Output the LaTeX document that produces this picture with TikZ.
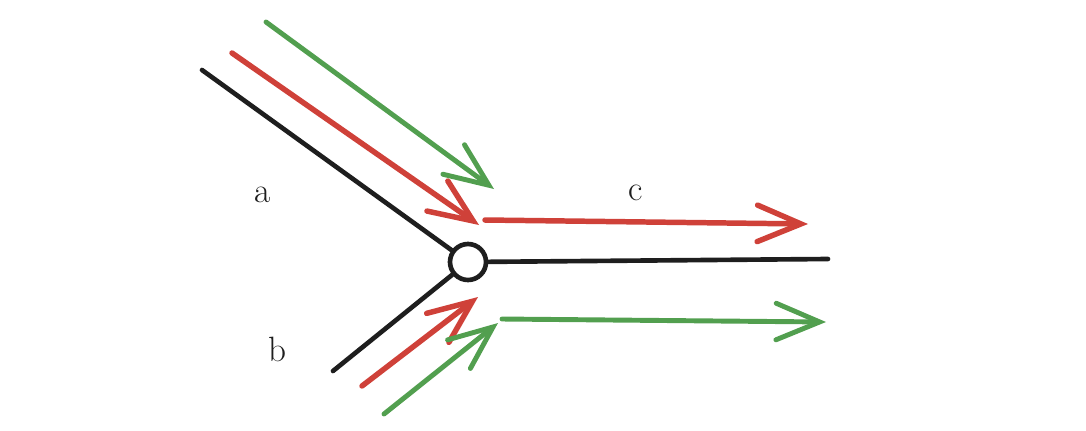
\documentclass[tikz,border=0pt]{standalone}
\usepackage{tikz}
\usetikzlibrary{arrows.meta}
\definecolor{ink}{HTML}{1E1E1E}
\definecolor{red}{HTML}{CF4139}
\definecolor{green}{HTML}{529F4F}
\tikzset{wire/.style={draw=ink,line width=3.3pt,line cap=round},redflow/.style={-{Straight Barb[length=31pt,width=26pt,line cap=round]},draw=red,line width=3.9pt,line cap=round},greenflow/.style={-{Straight Barb[length=31pt,width=26pt,line cap=round]},draw=green,line width=3.5pt,line cap=round},lbl/.style={font=\fontsize{25}{29}\selectfont,text=ink}}
\begin{document}
\begin{tikzpicture}[x=.025cm,y=-.025cm]
 \useasboundingbox (0,0) rectangle (1086,430);
 \node[circle,draw=ink,line width=3.3pt,minimum size=.9cm,inner sep=0pt] (j) at (468,262) {};
 \coordinate (ain) at (202,70); \coordinate (bin) at (333,371); \coordinate (cout) at (828,259);
 \draw[wire] (ain)--(j); \draw[wire] (bin)--(j); \draw[wire] (j)--(cout);
 % flows on a
 \coordinate (ra0) at (232,53); \coordinate (ra1) at (479,225);
 \coordinate (ga0) at (266,22); \coordinate (ga1) at (494,189);
 \draw[redflow] (ra0)--(ra1); \draw[greenflow] (ga0)--(ga1);
 % flows on b
 \coordinate (rb0) at (362,386); \coordinate (rb1) at (478,297);
 \coordinate (gb0) at (384,414); \coordinate (gb1) at (498,323);
 \draw[redflow] (rb0)--(rb1); \draw[greenflow] (gb0)--(gb1);
 % flows on c
 \coordinate (rc0) at (485,220); \coordinate (rc1) at (808,224);
 \coordinate (gc0) at (502,319); \coordinate (gc1) at (826,322);
 \draw[redflow] (rc0)--(rc1); \draw[greenflow] (gc0)--(gc1);
 \node[lbl] (la) at (263,195) {a}; \node[lbl] (lb) at (277,349) {b}; \node[lbl] (lc) at (636,193) {c};
\end{tikzpicture}
\end{document}
